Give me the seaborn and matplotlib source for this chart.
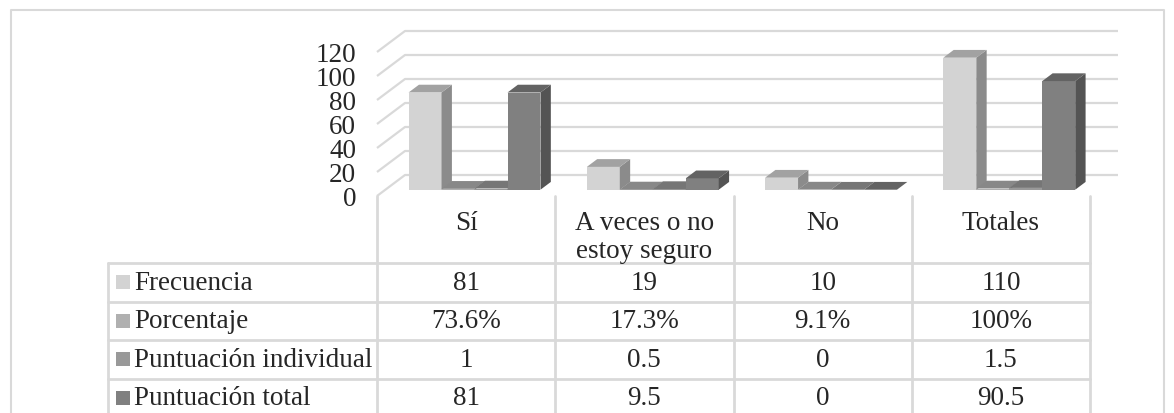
import numpy as np
import pandas as pd
import seaborn as sns
import matplotlib.pyplot as plt
from matplotlib.patches import Polygon, Rectangle
from matplotlib.transforms import ScaledTranslation

sns.set_style("white")
plt.rcParams['font.family'] = ['Liberation Serif', 'DejaVu Serif']

# data
categorias = ["Sí", "A veces o no\nestoy seguro", "No", "Totales"]
series = ["Frecuencia", "Porcentaje", "Puntuación individual", "Puntuación total"]
frecuencia = [81, 19, 10, 110]
porcentaje = [0.736, 0.173, 0.091, 1.0]
punt_individual = [1, 0.5, 0, 1.5]
punt_total = [81, 9.5, 0, 90.5]
tabla = [["81", "19", "10", "110"],
         ["73.6%", "17.3%", "9.1%", "100%"],
         ["1", "0.5", "0", "1.5"],
         ["81", "9.5", "0", "90.5"]]
colores = ["#d3d3d3", "#b0b0b0", "#999999", "#808080"]
y_ticks = [0, 20, 40, 60, 80, 100, 120]

df = pd.DataFrame({
    "cat": np.tile(categorias, 4),
    "serie": np.repeat(series, 4),
    "valor": frecuencia + porcentaje + punt_individual + punt_total,
})

W, H = 1174, 414
FS = 19.5
grid_c = "#d9d9d9"
fig = plt.figure(figsize=(W / 100, H / 100), dpi=100)

# front plane of the 3D chart: x 377..1090 px, y(0)=197, y(120)=53 (from top)
ax = fig.add_axes([377 / W, (H - 197) / H, 713 / W, 144 / H])
sns.barplot(data=df, x="cat", y="valor", hue="serie", hue_order=series,
            order=categorias, palette=colores, saturation=1, width=0.74,
            linewidth=0, ax=ax, legend=False, errorbar=None)
ax.set_xlim(-0.5, 3.5)
ax.set_ylim(0, 120)
ax.set_yticks(y_ticks)
ax.set_xticks([])
ax.set_xlabel("")
ax.set_ylabel("")
ax.tick_params(axis="y", length=0, pad=15, labelsize=FS)
for s in ax.spines.values():
    s.set_visible(False)
ax.patch.set_alpha(0)

# overlay in pixel coordinates (top-left origin)
ov = fig.add_axes([0, 0, 1, 1], zorder=-1)
ov.set_xlim(0, W)
ov.set_ylim(H, 0)
ov.axis("off")


def px(x, y):
    X, Y = ax.transData.transform((x, y))
    return X, H - Y


DX, DY = 28, 21          # full depth of the floor / back wall
f0, f1 = 0.30, 0.67      # bar depth range

# back wall gridlines and diagonals
for v in y_ticks:
    xa, ya = px(-0.5, v)
    xb, _ = px(3.5, v)
    ov.plot([xa, xa + DX, xb + DX], [ya, ya - DY, ya - DY], color=grid_c, lw=1.6,
            solid_capstyle="butt")

# 3D bars: shift front faces, add top and side faces
shift = ScaledTranslation(f0 * DX / 100, f0 * DY / 100, fig.dpi_scale_trans)
ddx, ddy = (f1 - f0) * DX, (f1 - f0) * DY
bars = sorted(ax.patches, key=lambda p: p.get_x())
for i, p in enumerate(bars):
    p.set_transform(ax.transData + shift)
    p.set_zorder(10 + i)
    p.set_clip_on(False)
    fc = np.array(p.get_facecolor()[:3])
    x0, x1 = p.get_x(), p.get_x() + p.get_width()
    h = p.get_height()
    (ax0, ay0), (ax1, ay1) = px(x0, 0), px(x1, h)
    ax0 += f0 * DX; ax1 += f0 * DX
    ay0 -= f0 * DY; ay1 -= f0 * DY
    top = [(ax0, ay1), (ax1, ay1), (ax1 + ddx, ay1 - ddy), (ax0 + ddx, ay1 - ddy)]
    side = [(ax1, ay0), (ax1, ay1), (ax1 + ddx, ay1 - ddy), (ax1 + ddx, ay0 - ddy)]
    kw = dict(transform=ov.transData, clip_on=False, lw=0)
    ax.add_patch(Polygon(side, facecolor=fc * 0.66, zorder=10.2 + i, **kw))
    ax.add_patch(Polygon(top, facecolor=fc * 0.77, zorder=10.2 + i, **kw))

# table
cols = [px(c, 0)[0] for c in np.arange(-0.5, 4.0, 1.0)]
y_hdr, y_rows = 197, [264, 302.5, 341, 379.5, 418]
x_left = 108
for y in y_rows[:-1]:
    ov.plot([x_left, cols[-1]], [y, y], color=grid_c, lw=2)
ov.plot([x_left, x_left], [y_rows[0], H], color=grid_c, lw=2)
for c in cols:
    ov.plot([c, c], [y_hdr, H], color=grid_c, lw=2)
for j, cat in enumerate(categorias):
    xc = (cols[j] + cols[j + 1]) / 2
    ov.text(xc, 211, cat, ha="center", va="top", fontsize=FS, linespacing=1.15)
for r, (nombre, col) in enumerate(zip(series, colores)):
    yc = (y_rows[r] + y_rows[r + 1]) / 2
    ov.add_patch(Rectangle((116, yc - 7), 14, 14, facecolor=col, lw=0))
    ov.text(134, yc, nombre, ha="left", va="center", fontsize=FS)
    for j in range(4):
        xc = (cols[j] + cols[j + 1]) / 2
        ov.text(xc, yc, tabla[r][j], ha="center", va="center", fontsize=FS)

# outer chart frame
ov.plot([10.5, 10.5, 1163.5, 1163.5], [H, 11, 11, H], color=grid_c, lw=1.5)

fig.savefig("out.png", dpi=100)
